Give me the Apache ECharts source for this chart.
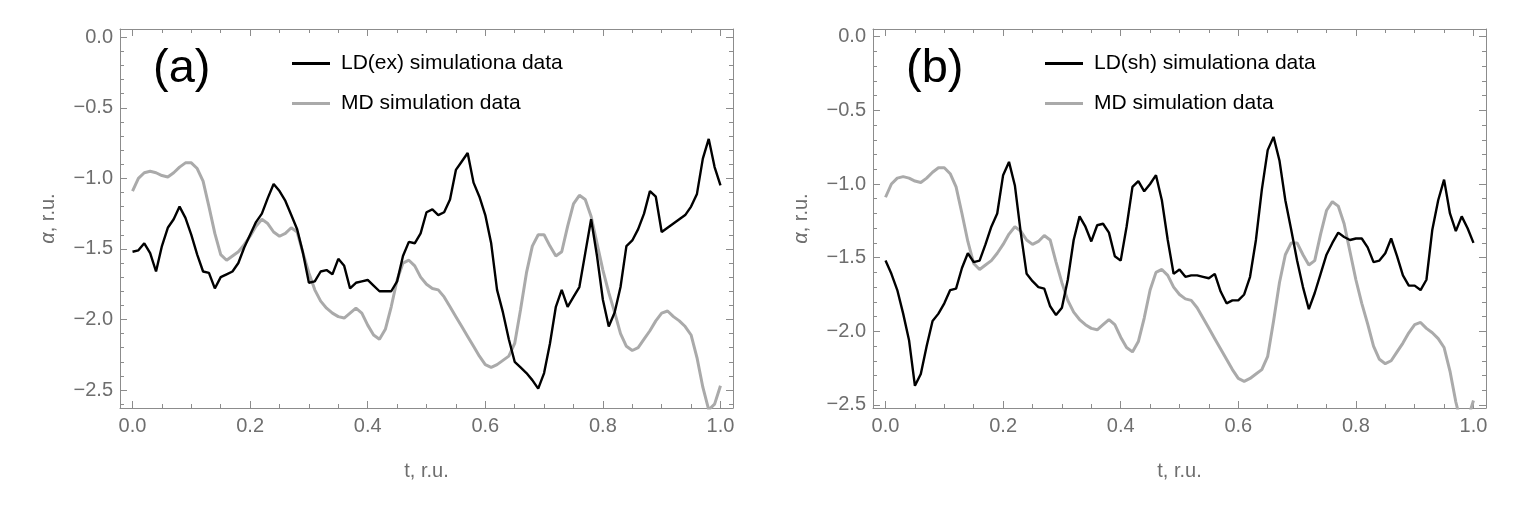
<!DOCTYPE html>
<html>
<head>
<meta charset="utf-8">
<script src="https://cdn.jsdelivr.net/npm/echarts@6/dist/echarts.min.js"></script>
<style>
  html, body { margin: 0; padding: 0; background: #fff; }
  #chart { width: 1525px; height: 513px; }
</style>
</head>
<body>
<div id="chart"></div>
<script>
// sample times t, r.u.
const tGrid = [
  0.00, 0.01, 0.02, 0.03, 0.04, 0.05, 0.06, 0.07, 0.08, 0.09,
  0.10, 0.11, 0.12, 0.13, 0.14, 0.15, 0.16, 0.17, 0.18, 0.19,
  0.20, 0.21, 0.22, 0.23, 0.24, 0.25, 0.26, 0.27, 0.28, 0.29,
  0.30, 0.31, 0.32, 0.33, 0.34, 0.35, 0.36, 0.37, 0.38, 0.39,
  0.40, 0.41, 0.42, 0.43, 0.44, 0.45, 0.46, 0.47, 0.48, 0.49,
  0.50, 0.51, 0.52, 0.53, 0.54, 0.55, 0.56, 0.57, 0.58, 0.59,
  0.60, 0.61, 0.62, 0.63, 0.64, 0.65, 0.66, 0.67, 0.68, 0.69,
  0.70, 0.71, 0.72, 0.73, 0.74, 0.75, 0.76, 0.77, 0.78, 0.79,
  0.80, 0.81, 0.82, 0.83, 0.84, 0.85, 0.86, 0.87, 0.88, 0.89,
  0.90, 0.91, 0.92, 0.93, 0.94, 0.95, 0.96, 0.97, 0.98, 0.99,
  1.00
];

// MD simulation data (same in both panels)
const mdData = [
  -1.09, -1.00, -0.96, -0.95, -0.96, -0.98, -0.99, -0.96, -0.92, -0.89,
  -0.89, -0.93, -1.02, -1.20, -1.39, -1.54, -1.58, -1.55, -1.52, -1.47,
  -1.41, -1.34, -1.29, -1.32, -1.38, -1.41, -1.39, -1.35, -1.38, -1.53,
  -1.67, -1.79, -1.87, -1.92, -1.955, -1.98, -1.99, -1.955, -1.92, -1.955,
  -2.04, -2.11, -2.14, -2.07, -1.91, -1.72, -1.60, -1.58, -1.62, -1.70,
  -1.75, -1.78, -1.79, -1.84, -1.91, -1.98, -2.05, -2.12, -2.19, -2.26,
  -2.32, -2.34, -2.32, -2.29, -2.26, -2.17, -1.93, -1.67, -1.48, -1.40,
  -1.40, -1.48, -1.55, -1.52, -1.34, -1.18, -1.12, -1.15, -1.27, -1.46,
  -1.65, -1.81, -1.95, -2.10, -2.19, -2.22, -2.20, -2.14, -2.08, -2.01,
  -1.955, -1.94, -1.98, -2.01, -2.05, -2.11, -2.27, -2.48, -2.64, -2.60,
  -2.47
];

// LD(ex) simulation data, panel (a)
const ldExData = [
  -1.52, -1.51, -1.46, -1.53, -1.66, -1.48, -1.35, -1.29, -1.20, -1.28,
  -1.40, -1.54, -1.66, -1.67, -1.78, -1.70, -1.68, -1.66, -1.60, -1.49,
  -1.40, -1.31, -1.25, -1.14, -1.04, -1.09, -1.16, -1.26, -1.36, -1.53,
  -1.74, -1.73, -1.66, -1.65, -1.68, -1.57, -1.62, -1.78, -1.74, -1.73,
  -1.72, -1.76, -1.80, -1.80, -1.80, -1.73, -1.55, -1.45, -1.46, -1.39,
  -1.24, -1.22, -1.26, -1.24, -1.15, -0.94, -0.88, -0.82, -1.03, -1.13,
  -1.26, -1.46, -1.79, -1.95, -2.14, -2.30, -2.34, -2.38, -2.43, -2.49,
  -2.38, -2.17, -1.91, -1.79, -1.91, -1.84, -1.77, -1.53, -1.29, -1.55,
  -1.86, -2.05, -1.95, -1.77, -1.48, -1.44, -1.36, -1.25, -1.09, -1.13,
  -1.38, -1.35, -1.32, -1.29, -1.26, -1.20, -1.11, -0.86, -0.72, -0.92,
  -1.05
];

// LD(sh) simulation data, panel (b)
const ldShData = [
  -1.52, -1.61, -1.72, -1.88, -2.06, -2.37, -2.29, -2.10, -1.93, -1.88,
  -1.81, -1.72, -1.71, -1.57, -1.47, -1.53, -1.52, -1.41, -1.29, -1.20,
  -0.94, -0.85, -1.01, -1.33, -1.61, -1.66, -1.70, -1.71, -1.83, -1.89,
  -1.84, -1.65, -1.38, -1.22, -1.29, -1.39, -1.28, -1.27, -1.33, -1.49,
  -1.52, -1.29, -1.02, -0.98, -1.05, -1.00, -0.94, -1.11, -1.38, -1.61,
  -1.58, -1.63, -1.62, -1.62, -1.63, -1.64, -1.61, -1.73, -1.81, -1.79,
  -1.79, -1.75, -1.63, -1.38, -1.04, -0.77, -0.68, -0.84, -1.11, -1.31,
  -1.52, -1.70, -1.85, -1.74, -1.61, -1.48, -1.40, -1.33, -1.36, -1.38,
  -1.37, -1.37, -1.43, -1.53, -1.52, -1.47, -1.37, -1.49, -1.62, -1.69,
  -1.69, -1.72, -1.65, -1.31, -1.11, -0.97, -1.20, -1.32, -1.22, -1.30,
  -1.40
];

// ticks
const xMajorTicks = [0, 0.2, 0.4, 0.6, 0.8, 1.0];
const xMinorTicks = [0.05, 0.1, 0.15, 0.25, 0.3, 0.35, 0.45, 0.5, 0.55, 0.65, 0.7, 0.75, 0.85, 0.9, 0.95];
const yMajorTicks = [0, -0.5, -1.0, -1.5, -2.0, -2.5];
const yMinorTicks = [-0.1, -0.2, -0.3, -0.4, -0.6, -0.7, -0.8, -0.9, -1.1, -1.2, -1.3, -1.4,
  -1.6, -1.7, -1.8, -1.9, -2.1, -2.2, -2.3, -2.4, -2.6];

const FONT = '"Liberation Sans", Arial, Helvetica, sans-serif';
const FRAME = '#8c8c8c';
const LABEL = '#6e6e6e';

const chart = echarts.init(document.getElementById('chart'), null, { renderer: 'canvas' });

const pairs = vals => tGrid.map((t, i) => [t, vals[i]]);
const fmt = v => (v < 0 ? '\u2212' : '') + Math.abs(v).toFixed(1);

// panel ranges
const panels = [
  { left: 120, xMin: -0.0213, xMax: 1.0213, yMin: -2.6275, yMax: 0.0588 },
  { left: 873, xMin: -0.0213, xMax: 1.0213, yMin: -2.5207, yMax: 0.0523 }
];

const grids = [];
const xAxes = [];
const yAxes = [];

panels.forEach((p, g) => {
  grids.push({ left: p.left, top: 29, width: 613, height: 379, containLabel: false });
  const inRangeY = arr => arr.filter(v => v >= p.yMin && v <= p.yMax);

  const xa = (pos, ticks, len, main) => ({
    type: 'value', gridIndex: g, position: pos, min: p.xMin, max: p.xMax,
    axisLine: { show: main, onZero: false, lineStyle: { color: FRAME, width: 1 } },
    axisTick: { show: true, inside: true, length: len, customValues: ticks, lineStyle: { color: FRAME, width: 1 } },
    axisLabel: (main && pos === 'bottom') ? {
      show: true, customValues: ticks, formatter: fmt, margin: 8,
      fontSize: 20, color: LABEL, fontFamily: FONT
    } : { show: false },
    splitLine: { show: false },
    name: (main && pos === 'bottom') ? 't, r.u.' : '',
    nameLocation: 'middle', nameGap: 53,
    nameTextStyle: { fontSize: 20, color: LABEL, fontFamily: FONT }
  });

  const ya = (pos, ticks, len, main) => ({
    type: 'value', gridIndex: g, position: pos, min: p.yMin, max: p.yMax,
    axisLine: { show: main, onZero: false, lineStyle: { color: FRAME, width: 1 } },
    axisTick: { show: true, inside: true, length: len, customValues: inRangeY(ticks), lineStyle: { color: FRAME, width: 1 } },
    axisLabel: (main && pos === 'left') ? {
      show: true, customValues: inRangeY(ticks), formatter: fmt, margin: 7,
      fontSize: 20, color: LABEL, fontFamily: FONT
    } : { show: false },
    splitLine: { show: false },
    name: (main && pos === 'left') ? '{a|α}, r.u.' : '',
    nameLocation: 'middle', nameGap: 62, nameRotate: 90,
    nameTextStyle: {
      fontSize: 20, color: LABEL, fontFamily: FONT,
      rich: { a: { fontSize: 20, color: LABEL, fontFamily: FONT, fontStyle: 'italic' } }
    }
  });

  xAxes.push(xa('bottom', xMajorTicks, 7, true));
  xAxes.push(xa('bottom', xMinorTicks, 4, false));
  xAxes.push(xa('top', xMajorTicks, 7, true));
  xAxes.push(xa('top', xMinorTicks, 4, false));

  yAxes.push(ya('left', yMajorTicks, 7, true));
  yAxes.push(ya('left', yMinorTicks, 4, false));
  yAxes.push(ya('right', yMajorTicks, 7, true));
  yAxes.push(ya('right', yMinorTicks, 4, false));
});

const lineSeries = (name, vals, g, color, width) => ({
  type: 'line', name: name, xAxisIndex: g * 4, yAxisIndex: g * 4,
  data: pairs(vals), showSymbol: false, symbol: 'none', clip: true,
  lineStyle: { color: color, width: width }, itemStyle: { color: color }
});

const legendBase = {
  orient: 'vertical', top: 48, itemWidth: 38, itemHeight: 3, itemGap: 19,
  icon: 'rect', selectedMode: false,
  textStyle: { fontSize: 21, color: '#000', fontFamily: FONT, padding: [0, 0, 0, 6] }
};

const option = {
  animation: false,
  backgroundColor: '#fff',
  grid: grids,
  xAxis: xAxes,
  yAxis: yAxes,
  legend: [
    Object.assign({}, legendBase, { left: 287, data: ['LD(ex) simulationa data', 'MD simulation data'] }),
    Object.assign({}, legendBase, { left: 1040, data: ['LD(sh) simulationa data', 'MD simulation data'] })
  ],
  graphic: [
    { type: 'text', x: 153, y: 46, style: { text: '(a)', font: '47px ' + FONT, fill: '#000', verticalAlign: 'top' } },
    { type: 'text', x: 906, y: 46, style: { text: '(b)', font: '47px ' + FONT, fill: '#000', verticalAlign: 'top' } }
  ],
  series: [
    lineSeries('MD simulation data', mdData, 0, '#aaaaaa', 3),
    lineSeries('LD(ex) simulationa data', ldExData, 0, '#000000', 2.4),
    lineSeries('MD simulation data', mdData, 1, '#aaaaaa', 3),
    lineSeries('LD(sh) simulationa data', ldShData, 1, '#000000', 2.4)
  ]
};

chart.setOption(option);
</script>
</body>
</html>
